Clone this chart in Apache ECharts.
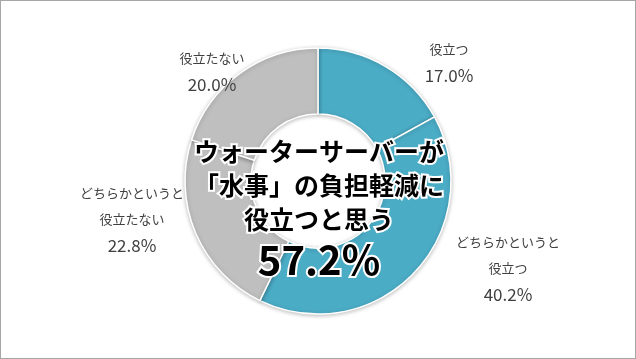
<!DOCTYPE html>
<html><head><meta charset="utf-8">
<script src="https://cdn.jsdelivr.net/npm/echarts@6/dist/echarts.min.js"></script>
<style>html,body{margin:0;padding:0;background:#fff}#c{width:636px;height:359px;box-sizing:border-box;border:1px solid #a6a6a6}</style>
</head><body><div id="c"></div>
<script>
var categories = ['役立つ', 'どちらかというと\n役立つ', 'どちらかというと\n役立たない', '役立たない'];
var values = [17.0, 40.2, 22.8, 20.0];
var colors = ['#4BACC6', '#4BACC6', '#BFBFBF', '#BFBFBF'];
var centerTitle = 'ウォーターサーバーが\n「水事」の負担軽減に\n役立つと思う';
var centerValue = '57.2%';
var labelPos = [[448, 35], [507, 228], [131, 179], [211, 44]];

var FONT = '"Noto Sans CJK JP", "Noto Sans", sans-serif';
var chart = echarts.init(document.getElementById('c'));
chart.setOption({
  animation: false,
  graphic: [{
    type: 'text', z: 100,
    style: {
      text: centerTitle, font: 'bold 25px ' + FONT, fill: '#000',
      stroke: '#fff', lineWidth: 4, x: 318, y: 133, textAlign: 'center', lineHeight: 34
    }
  }, {
    type: 'text', z: 100,
    style: {
      text: centerValue, font: 'bold 40px ' + FONT, fill: '#000',
      stroke: '#fff', lineWidth: 4, x: 318, y: 259, textAlign: 'center', textVerticalAlign: 'middle'
    }
  }],
  series: [{
    type: 'pie',
    center: [317, 180],
    radius: [67, 133],
    startAngle: 90,
    clockwise: true,
    silent: true,
    itemStyle: { borderColor: '#fff', borderWidth: 1.5, shadowBlur: 4, shadowColor: 'rgba(0,0,0,0.25)', shadowOffsetY: 1 },
    labelLine: { show: false },
    label: {
      show: true, position: 'outside',
      formatter: function (p) { return '{n|' + p.name + '}\n{v|' + p.value.toFixed(1) + '%}'; },
      rich: {
        n: { fontSize: 13, lineHeight: 26, color: '#404040', fontFamily: FONT, align: 'center' },
        v: { fontSize: 17, lineHeight: 28, color: '#404040', fontFamily: FONT, align: 'center' }
      }
    },
    labelLayout: function (p) {
      var pos = labelPos[p.dataIndex];
      return { x: pos[0], y: pos[1], align: 'center', verticalAlign: 'top' };
    },
    data: categories.map(function (c, i) {
      return { name: c, value: values[i], itemStyle: { color: colors[i] } };
    })
  }]
});
</script></body></html>
